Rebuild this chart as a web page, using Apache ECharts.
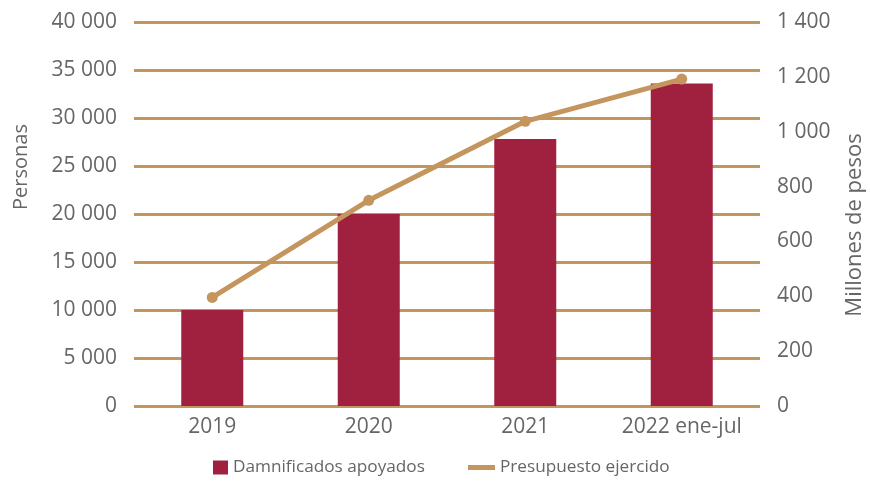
<!DOCTYPE html>
<html>
<head>
<meta charset="utf-8">
<script src="https://cdn.jsdelivr.net/npm/echarts@6/dist/echarts.min.js"></script>
<style>
  html, body { margin: 0; padding: 0; background: #fff; }
  #chart { width: 870px; height: 481px; }
</style>
</head>
<body>
<div id="chart"></div>
<script>
const years = ['2019', '2020', '2021', '2022 ene-jul']
const damnificados = [10000, 20000, 27800, 33600]
const presupuesto = [396, 750, 1038, 1192]

const barColor = '#A0213F'
const lineColor = '#C4955C'
const textColor = '#666666'
const fontFamily = '"Open Sans", sans-serif'

// separador de miles con espacio
function miles(v) {
  return String(v).replace(/\B(?=(\d{3})+(?!\d))/g, ' ')
}

const legendText = { color: textColor, fontSize: 17.2, fontFamily: fontFamily }

const chart = echarts.init(document.getElementById('chart'))
chart.setOption({
  animation: false,
  textStyle: { fontFamily: fontFamily },
  grid: { left: 134, right: 110, top: 22, bottom: 75, outerBoundsMode: 'none' },
  // dos leyendas para que cada icono tenga su propio tamaño
  legend: [{
    left: 208,
    bottom: 0,
    icon: 'rect',
    itemWidth: 15,
    itemHeight: 14,
    textStyle: legendText,
    data: ['Damnificados apoyados']
  }, {
    left: 463,
    bottom: 0,
    icon: 'rect',
    itemWidth: 27,
    itemHeight: 5,
    textStyle: legendText,
    data: ['Presupuesto ejercido']
  }],
  xAxis: {
    type: 'category',
    data: years,
    axisLine: { show: false },
    axisTick: { show: false },
    axisLabel: { color: textColor, fontSize: 21, margin: 11 }
  },
  yAxis: [{
    type: 'value',
    min: 0,
    max: 40000,
    interval: 5000,
    name: 'Personas',
    nameLocation: 'middle',
    nameRotate: 90,
    nameGap: 103,
    nameTextStyle: { color: textColor, fontSize: 20, padding: [0, 0, 0, 94] },
    axisLine: { show: false },
    axisTick: { show: false },
    axisLabel: { color: textColor, fontSize: 21, margin: 17, formatter: miles },
    splitLine: { lineStyle: { color: lineColor, width: 3 } }
  }, {
    type: 'value',
    min: 0,
    max: 1400,
    interval: 200,
    name: 'Millones de pesos',
    nameLocation: 'middle',
    nameRotate: 90,
    nameGap: 84,
    nameTextStyle: { color: textColor, fontSize: 22, padding: [0, 22, 0, 0] },
    axisLine: { show: false },
    axisTick: { show: false },
    axisLabel: { color: textColor, fontSize: 21, margin: 17, formatter: miles },
    splitLine: { show: false }
  }],
  series: [{
    name: 'Damnificados apoyados',
    type: 'bar',
    data: damnificados,
    barWidth: 62,
    itemStyle: { color: barColor },
    z: 2
  }, {
    name: 'Presupuesto ejercido',
    type: 'line',
    yAxisIndex: 1,
    data: presupuesto,
    symbol: 'circle',
    symbolSize: 11,
    lineStyle: { color: lineColor, width: 5 },
    itemStyle: { color: lineColor },
    z: 3
  }]
})
</script>
</body>
</html>
